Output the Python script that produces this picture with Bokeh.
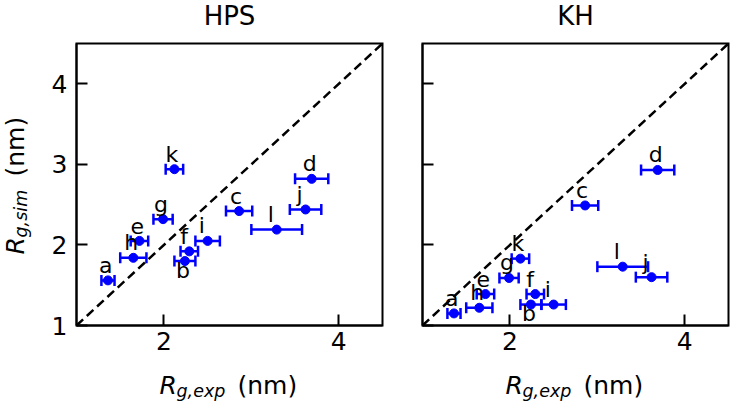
import math
from bokeh.plotting import figure
from bokeh.models import Range1d, FixedTicker, Label, Whisker, TeeHead, ColumnDataSource, LinearAxis
from bokeh.layouts import row
from bokeh.embed import file_html
from bokeh.resources import INLINE
from bokeh.core.properties import value

# ---------------- data ----------------
labels = ["a", "b", "c", "d", "e", "f", "g", "h", "i", "j", "k", "l"]
rg_exp = [1.36, 2.24, 2.86, 3.69, 1.72, 2.29, 1.99, 1.65, 2.50, 3.62, 2.12, 3.29]
rg_exp_err = [0.075, 0.12, 0.15, 0.19, 0.10, 0.10, 0.11, 0.15, 0.14, 0.18, 0.10, 0.29]
rg_sim_hps = [1.56, 1.80, 2.42, 2.82, 2.05, 1.92, 2.32, 1.84, 2.05, 2.44, 2.94, 2.19]
rg_sim_kh = [1.15, 1.26, 2.49, 2.93, 1.39, 1.39, 1.59, 1.22, 1.26, 1.60, 1.83, 1.73]
panel_titles = ["HPS", "KH"]
x_ticks = [2, 4]
y_ticks = [1, 2, 3, 4]
axis_lim = [1, 4.5]
labels_below = ["b"]

FONT = "DejaVu Sans"
BLUE = "#0000ff"

BOX_W, BOX_H = 306, 282     # pixel size of each axes box
PAD_TOP, PAD_BOTTOM = 43, 79
LIFT = 8                    # baseline correction for text rendering

# (text, style, size px, offset along the label, subscript drop)
LABEL_PIECES = [("R", "italic", 25, -70, 0), (None, "italic", 17.5, -53, 5), ("(nm)", "normal", 25, 8, 0)]


def x_label(p, x, y, sub):
    for text, style, size, along, shift in LABEL_PIECES:
        text = sub if text is None else text
        p.add_layout(Label(x=x, y=y, x_offset=along, y_offset=-68 + LIFT - shift, text=text,
                           text_font=FONT, text_font_style=style, text_font_size=f"{size}px",
                           text_align="left", text_baseline="alphabetic", text_color="black"))


def y_label(p, x, y, sub):
    for text, style, size, along, shift in LABEL_PIECES:
        text = sub if text is None else text
        p.text(x=[x], y=[y], text=[text], angle=math.pi / 2,
               x_offset=-53 - LIFT + shift, y_offset=-along,
               text_font=value(FONT), text_font_style=style, text_font_size=f"{size}px",
               text_align="left", text_baseline="alphabetic", text_color="black")


def make_panel(title, ys, pad_left, pad_right, first):
    lo_lim, hi_lim = axis_lim
    span = hi_lim - lo_lim
    ux = BOX_W / span
    uy = BOX_H / span
    xr = Range1d(lo_lim - pad_left / ux, hi_lim + pad_right / ux)
    yr = Range1d(lo_lim - PAD_BOTTOM / uy, hi_lim + PAD_TOP / uy)
    p = figure(frame_width=BOX_W + pad_left + pad_right, frame_height=BOX_H + PAD_TOP + PAD_BOTTOM,
               x_range=xr, y_range=yr, x_axis_location=None, y_axis_location=None,
               min_border=0, output_backend="svg", toolbar_location=None)
    p.grid.visible = False
    p.outline_line_color = None
    p.background_fill_color = "white"
    p.border_fill_color = "white"

    xaxis = LinearAxis(fixed_location=lo_lim, bounds=(lo_lim, hi_lim), ticker=FixedTicker(ticks=x_ticks))
    yaxis = LinearAxis(fixed_location=lo_lim, bounds=(lo_lim, hi_lim), ticker=FixedTicker(ticks=y_ticks))
    for ax in (xaxis, yaxis):
        ax.axis_line_width = 2
        ax.axis_line_color = "black"
        ax.major_tick_in = 11
        ax.major_tick_out = 0
        ax.major_tick_line_width = 2
        ax.major_tick_line_color = "black"
        ax.minor_tick_line_color = None
        ax.major_label_text_font = FONT
        ax.major_label_text_font_size = "25px"
        ax.major_label_text_color = "black"
    xaxis.major_label_standoff = 6
    yaxis.major_label_standoff = 9
    if not first:
        yaxis.major_label_overrides = {t: "" for t in y_ticks}
    p.add_layout(xaxis, "below")
    p.add_layout(yaxis, "left")

    # axes box
    p.quad(left=[lo_lim], right=[hi_lim], bottom=[lo_lim], top=[hi_lim], fill_color=None,
           line_color="black", line_width=2, line_join="miter")
    # diagonal y = x
    p.line(axis_lim, axis_lim, line_color="black", line_width=2.5, line_dash="9 5")

    lo = [a - e for a, e in zip(rg_exp, rg_exp_err)]
    hi = [a + e for a, e in zip(rg_exp, rg_exp_err)]
    src = ColumnDataSource(dict(x=rg_exp, y=ys, lo=lo, hi=hi, label=labels))
    w = Whisker(base="y", lower="lo", upper="hi", dimension="width", source=src,
                line_color=BLUE, line_width=2.5, level="underlay",
                upper_head=TeeHead(size=11, line_color=BLUE, line_width=2.5),
                lower_head=TeeHead(size=11, line_color=BLUE, line_width=2.5))
    p.add_layout(w)
    p.scatter("x", "y", source=src, size=9, color=BLUE)

    up_idx = [i for i, l in enumerate(labels) if l not in labels_below]
    dn_idx = [i for i, l in enumerate(labels) if l in labels_below]
    for idx, yoff in ((up_idx, -7 - LIFT), (dn_idx, 17 - LIFT)):
        p.text(x=[rg_exp[i] for i in idx], y=[ys[i] for i in idx], text=[labels[i] for i in idx],
               x_offset=-9, y_offset=yoff, text_font=value(FONT), text_font_size="22px",
               text_align="left", text_baseline="alphabetic", text_color="black")

    xc = (lo_lim + hi_lim) / 2
    p.add_layout(Label(x=xc, y=hi_lim, y_offset=20 + LIFT, text=title, text_font=FONT,
                       text_font_size="26px", text_align="center", text_baseline="alphabetic",
                       text_color="black"))
    x_label(p, xc, lo_lim, "g,exp")
    if first:
        y_label(p, lo_lim, xc, "g,sim")
    return p


p1 = make_panel(panel_titles[0], rg_sim_hps, 76, 20, True)
p2 = make_panel(panel_titles[1], rg_sim_kh, 20, 4, False)
layout = row(p1, p2)

open("out.html", "w").write(file_html(layout, INLINE))
